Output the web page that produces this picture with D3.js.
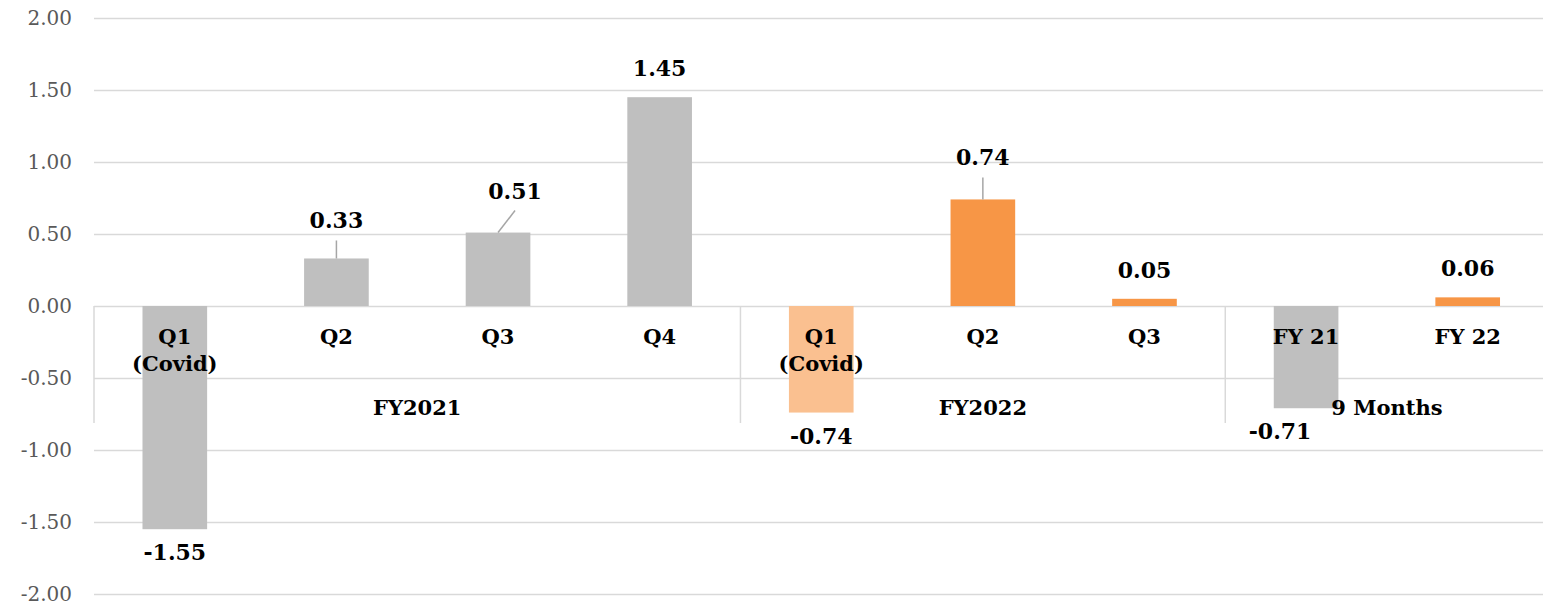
<!DOCTYPE html>
<html>
<head>
<meta charset="utf-8">
<script src="https://cdn.jsdelivr.net/npm/d3@7"></script>
<style>
  html, body { margin: 0; padding: 0; background: #ffffff; }
  svg { display: block; }
</style>
</head>
<body>
<svg id="chart" width="1543" height="604"></svg>
<script>
// Quarterly values, two fiscal years plus nine-month totals
const categories = ["Q1\n(Covid)", "Q2", "Q3", "Q4", "Q1\n(Covid)", "Q2", "Q3", "FY 21", "FY 22"];
const groups = ["FY2021", "FY2021", "FY2021", "FY2021", "FY2022", "FY2022", "FY2022", "9 Months", "9 Months"];
const values = [-1.55, 0.33, 0.51, 1.45, -0.74, 0.74, 0.05, -0.71, 0.06];
const barColors = ["#bfbfbf", "#bfbfbf", "#bfbfbf", "#bfbfbf", "#fac090", "#f79646", "#f79646", "#bfbfbf", "#f79646"];
const yTicks = [2.0, 1.5, 1.0, 0.5, 0.0, -0.5, -1.0, -1.5, -2.0];

// Label nudges (dx, dy in px from the default spot); leader lines join moved labels to bars
const labelNudge = {
  1: { dx: 0, dy: -9, leader: true },
  2: { dx: 17, dy: -13, leader: true },
  5: { dx: 0, dy: -13, leader: true },
  7: { dx: -26, dy: 0, leader: false }
};

const svg = d3.select("#chart");
const plot = { left: 94, right: 1548.5, top: 18, bottom: 594 };
const FONT = "'DejaVu Serif', 'Liberation Serif', serif";

// Two decimals with a plain hyphen for negatives
const fmt = v => d3.format(".2f")(v).replace("\u2212", "-");

const x = d3.scaleBand()
  .domain(d3.range(values.length))
  .range([plot.left, plot.right])
  .paddingInner(0.6)
  .paddingOuter(0.3);

const y = d3.scaleLinear()
  .domain([-2, 2])
  .range([plot.bottom, plot.top]);

// Y axis with horizontal gridlines
const yAxis = d3.axisLeft(y)
  .tickValues(yTicks)
  .tickFormat(fmt)
  .tickSize(-(plot.right - plot.left))
  .tickPadding(22);

const gy = svg.append("g")
  .attr("transform", `translate(${plot.left},0)`)
  .call(yAxis);
gy.select(".domain").remove();
gy.selectAll(".tick line")
  .attr("stroke", "#d9d9d9")
  .attr("stroke-width", 1.5);
gy.selectAll(".tick text")
  .attr("fill", "#595959")
  .attr("dy", "0.3em")
  .style("font-family", FONT)
  .style("font-size", "20px");

// Bars
svg.append("g")
  .selectAll("rect")
  .data(values)
  .join("rect")
  .attr("x", (d, i) => x(i))
  .attr("width", x.bandwidth())
  .attr("y", d => y(Math.max(0, d)))
  .attr("height", d => Math.abs(y(d) - y(0)))
  .attr("fill", (d, i) => barColors[i]);

// Group separators on the category axis
const step = x.step();
const groupSpans = [];
groups.forEach((g, i) => {
  const last = groupSpans[groupSpans.length - 1];
  if (last && last.name === g) last.end = i;
  else groupSpans.push({ name: g, start: i, end: i });
});
const sepTop = y(0), sepBottom = 423;
const sepX = groupSpans.map(s => x(s.start) - step * 0.3);
svg.append("g")
  .selectAll("line")
  .data(sepX)
  .join("line")
  .attr("x1", d => d).attr("x2", d => d)
  .attr("y1", sepTop).attr("y2", sepBottom)
  .attr("stroke", "#d9d9d9")
  .attr("stroke-width", 1.5);

// Category labels
const catG = svg.append("g")
  .style("font-family", FONT)
  .style("font-weight", "bold")
  .style("font-size", "21px")
  .attr("fill", "#000");
categories.forEach((c, i) => {
  const lines = c.split("\n");
  const t = catG.append("text")
    .attr("x", x(i) + x.bandwidth() / 2)
    .attr("y", 344)
    .attr("text-anchor", "middle");
  lines.forEach((ln, k) => {
    t.append("tspan")
      .attr("x", x(i) + x.bandwidth() / 2)
      .attr("dy", k === 0 ? 0 : 27)
      .text(ln);
  });
});

// Group labels
catG.selectAll("text.group")
  .data(groupSpans)
  .join("text")
  .attr("class", "group")
  .attr("x", s => (x(s.start) - step * 0.3 + Math.min(x(s.end) + x.bandwidth() + step * 0.3, plot.right)) / 2)
  .attr("y", 415)
  .attr("text-anchor", "middle")
  .text(s => s.name);

// Value labels with leader lines
const valG = svg.append("g")
  .style("font-family", FONT)
  .style("font-weight", "bold")
  .style("font-size", "22px")
  .attr("fill", "#000");
values.forEach((v, i) => {
  const cx = x(i) + x.bandwidth() / 2;
  const n = labelNudge[i] || { dx: 0, dy: 0, leader: false };
  const base = v >= 0 ? y(v) - 21 : y(v) + 31;
  const lx = cx + n.dx, ly = base + n.dy;
  if (n.leader) {
    svg.append("line")
      .attr("x1", lx).attr("y1", ly + 12)
      .attr("x2", cx).attr("y2", y(v))
      .attr("stroke", "#a6a6a6")
      .attr("stroke-width", 1.5);
  }
  valG.append("text")
    .attr("x", lx)
    .attr("y", ly)
    .attr("text-anchor", "middle")
    .text(fmt(v));
});
</script>
</body>
</html>
